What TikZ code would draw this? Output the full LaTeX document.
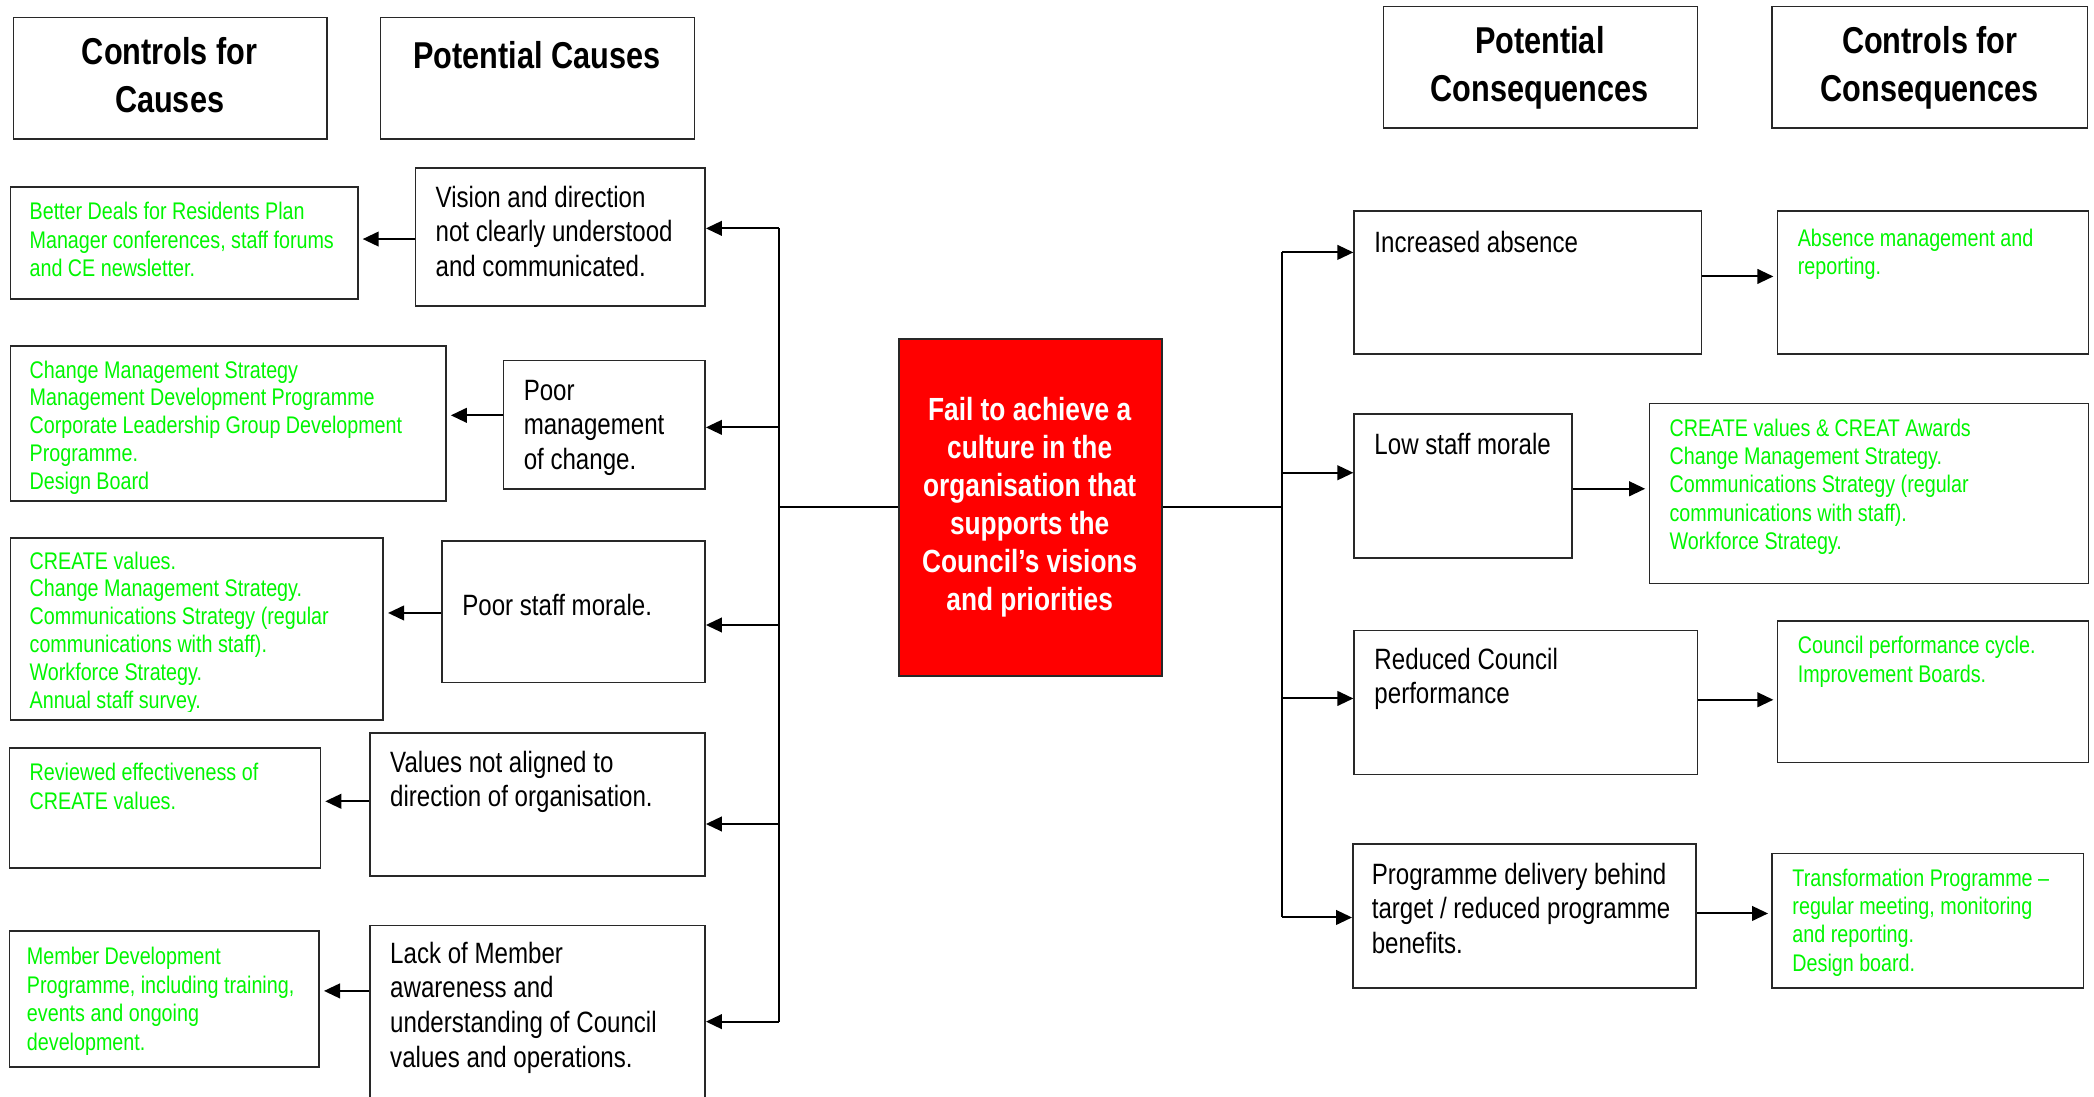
\documentclass[tikz,border=0pt]{standalone}
\usepackage{fontspec}
\setmainfont{Liberation Sans}[FakeStretch=0.82]
\usetikzlibrary{arrows.meta,fit}
\definecolor{ctlgreen}{RGB}{0,245,0}
\definecolor{riskred}{RGB}{255,0,0}
\definecolor{edge}{RGB}{40,40,40}
\begin{document}
\begin{tikzpicture}[x=1pt,y=-1pt,
  frame/.style={draw=edge, line width=1.2pt, inner sep=0pt, fit={#1}},
  hdtext/.style={anchor=north, inner sep=0pt, align=center, font=\fontsize{28}{36}\selectfont\bfseries},
  bodytext/.style={anchor=north west, inner sep=0pt, align=left, font=\fontsize{22}{26}\selectfont},
  ctltext/.style={anchor=north west, inner sep=0pt, align=left, text=ctlgreen, font=\fontsize{18}{21.3}\selectfont},
  tightlines/.style={font=\fontsize{18}{20.8}\selectfont},
  arr/.style={line width=1.5pt, -{Triangle[length=12pt,width=11pt]}},
  trunk/.style={line width=1.5pt}]
\useasboundingbox (0,0) rectangle (1568,821);

% ---- column headings
\node[frame={(10,13) (245,104)}] (hcc) {};
\node[hdtext] (hcct) at (127,22.8) {\strut Controls for\\Causes};
\node[frame={(285,13) (520,104)}] (hpc) {};
\node[hdtext] (hpct) at (402,25.8) {\strut Potential Causes};
\node[frame={(1036,5) (1271,96)}] (hpq) {};
\node[hdtext] (hpqt) at (1153,14.8) {\strut Potential\\Consequences};
\node[frame={(1327,5) (1563,96)}] (hcq) {};
\node[hdtext] (hcqt) at (1445,14.8) {\strut Controls for\\Consequences};

% ---- central risk
\node[frame={(673,254) (870,506)}, fill=riskred] (main) {};
\node[align=center, text=white, inner sep=0pt, font=\fontsize{24}{28.5}\selectfont\bfseries] (maint) at (771,380)
  {Fail to achieve a\\culture in the\\organisation that\\supports the\\Council’s visions\\and priorities};

% ---- controls for causes
\node[frame={(8,140) (268,224)}] (c1) {};
\node[ctltext] (c1t) at (22,149.4) {\strut Better Deals for Residents Plan\\Manager conferences, staff forums\\and CE newsletter.};
\node[frame={(8,259) (334,375)}] (c2) {};
\node[ctltext, tightlines] (c2t) at (22,268.4) {\strut Change Management Strategy\\Management Development Programme\\Corporate Leadership Group Development\\Programme.\\Design Board};
\node[frame={(8,403) (287,539)}] (c3) {};
\begin{scope}
  \clip (8,403) rectangle (287,533);
  \node[ctltext, tightlines] (c3t) at (22,411.4) {\strut CREATE values.\\Change Management Strategy.\\Communications Strategy (regular\\communications with staff).\\Workforce Strategy.\\Annual staff survey.};
\end{scope}
\node[frame={(7,560) (240,650)}] (c4) {};
\node[ctltext] (c4t) at (22,569.4) {\strut Reviewed effectiveness of\\CREATE values.};
\node[frame={(7,697) (239,799)}] (c5) {};
\node[ctltext] (c5t) at (20,707.4) {\strut Member Development\\Programme, including training,\\events and ongoing\\development.};

% ---- potential causes
\node[frame={(311,126) (528,229)}] (p1) {};
\node[bodytext] (p1t) at (326,136.7) {\strut Vision and direction\\not clearly understood\\and communicated.};
\node[frame={(377,270) (528,366)}] (p2) {};
\node[bodytext] (p2t) at (392,281.2) {\strut Poor\\management\\of change.};
\node[frame={(331,405) (528,511)}] (p3) {};
\node[bodytext] (p3t) at (346,442.7) {\strut Poor staff morale.};
\node[frame={(277,549) (528,656)}] (p4) {};
\node[bodytext] (p4t) at (292,559.7) {\strut Values not aligned to\\direction of organisation.};
\node[frame={(277,693) (528,828)}] (p5) {};
\node[bodytext] (p5t) at (292,702.7) {\strut Lack of Member\\awareness and\\understanding of Council\\values and operations.};

% ---- potential consequences
\node[frame={(1014,158) (1274,265)}] (q1) {};
\node[bodytext] (q1t) at (1029,170.7) {\strut Increased absence};
\node[frame={(1014,310) (1177,418)}] (q2) {};
\node[bodytext] (q2t) at (1029,321.7) {\strut Low staff morale};
\node[frame={(1014,472) (1271,580)}] (q3) {};
\node[bodytext] (q3t) at (1029,482.7) {\strut Reduced Council\\performance};
\node[frame={(1013,632) (1270,740)}] (q4) {};
\node[bodytext] (q4t) at (1027,643.7) {\strut Programme delivery behind\\target / reduced programme\\benefits.};

% ---- controls for consequences
\node[frame={(1331,158) (1564,265)}] (r1) {};
\node[ctltext] (r1t) at (1346,169.4) {\strut Absence management and\\reporting.};
\node[frame={(1235,302) (1564,437)}] (r2) {};
\node[ctltext] (r2t) at (1250,311.4) {\strut CREATE values \& CREAT Awards\\Change Management Strategy.\\Communications Strategy (regular\\communications with staff).\\Workforce Strategy.};
\node[frame={(1331,465) (1564,571)}] (r3) {};
\node[ctltext] (r3t) at (1346,474.4) {\strut Council performance cycle.\\Improvement Boards.};
\node[frame={(1327,639) (1560,740)}] (r4) {};
\node[ctltext] (r4t) at (1342,648.4) {\strut Transformation Programme –\\regular meeting, monitoring\\and reporting.\\Design board.};

% ---- branching from the risk to the causes
\coordinate (lt1) at (583,171);
\coordinate (lt2) at (583,320);
\coordinate (lt3) at (583,468);
\coordinate (lt4) at (583,617);
\coordinate (lt5) at (583,765);
\draw[trunk] (main.west) -- (main.west -| lt1);
\draw[trunk] (lt1) -- (lt5);
\foreach \i in {1,...,5} \draw[arr] (lt\i) -- (lt\i -| p\i.east);

% ---- causes to their controls
\coordinate (ya1) at (0,179);
\coordinate (ya2) at (0,311);
\coordinate (ya3) at (0,459);
\coordinate (ya4) at (0,600);
\coordinate (ya5) at (0,742);
\foreach \i in {1,...,5} \draw[arr, shorten >=3pt] (p\i.west |- ya\i) -- (c\i.east |- ya\i);

% ---- branching from the risk to the consequences
\coordinate (rt1) at (960,189);
\coordinate (rt2) at (960,354);
\coordinate (rt3) at (960,523);
\coordinate (rt4) at (960,687);
\draw[trunk] (main.east) -- (main.east -| rt1);
\draw[trunk] (rt1) -- (rt4);
\foreach \i in {1,...,4} \draw[arr] (rt\i) -- (rt\i -| q\i.west);

% ---- consequences to their controls
\coordinate (yb1) at (0,207);
\coordinate (yb2) at (0,366);
\coordinate (yb3) at (0,524);
\coordinate (yb4) at (0,684);
\foreach \i in {1,...,4} \draw[arr, shorten >=2.5pt] (q\i.east |- yb\i) -- (r\i.west |- yb\i);
\end{tikzpicture}
\end{document}
